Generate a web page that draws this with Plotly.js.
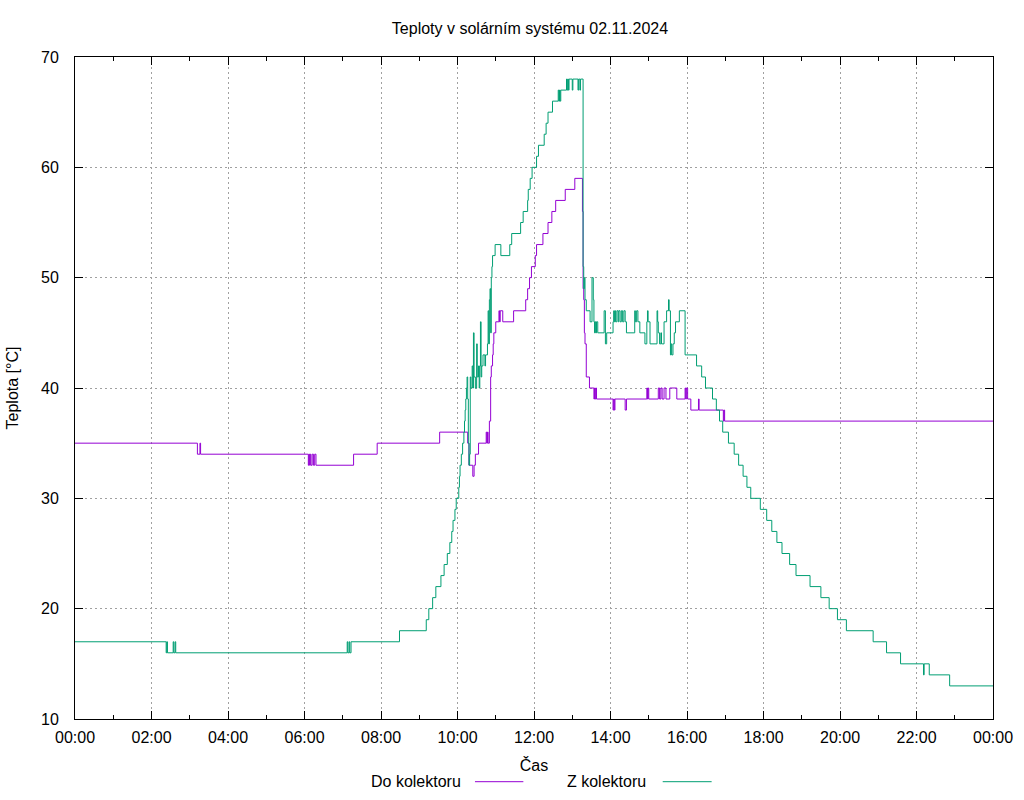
<!DOCTYPE html>
<html>
<head>
<meta charset="utf-8">
<script src="https://cdn.plot.ly/plotly-3.0.1.min.js"></script>
<style>
  html, body { margin: 0; padding: 0; background: #fff; }
  #chart { width: 1024px; height: 800px; }
</style>
</head>
<body>
<div id="chart"></div>
<script>
// ---- Data ----
var chartTitle = 'Teploty v solárním systému 02.11.2024';
var xTitle = 'Čas';
var yTitle = 'Teplota [°C]';
var seriesNames = ['Do kolektoru', 'Z kolektoru'];
var seriesColors = ['#9400d3', '#009e73'];
var dayDate = '2024-11-02';
var nextDate = '2024-11-03';

// "Do kolektoru" (inlet to collector)
var doTime = ['00:00','03:12','03:16','03:17','06:06','06:07','06:08','06:09','06:10','06:12','06:14','06:16','06:18',
  '07:17','07:54','09:32','10:16','10:18','10:24','10:26','10:28','10:33','10:45','10:46','10:47','10:48','10:50',
  '10:52','10:53','10:55','10:56','10:57','11:00','11:05','11:06','11:07','11:11','11:28','11:47','11:50','11:53',
  '11:56','12:02','12:04','12:14','12:22','12:28','12:34','12:49','13:04','13:16','13:17','13:18','13:19','13:20',
  '13:22','13:27','13:34','13:35','13:36','13:37','13:38','14:04','14:05','14:06','14:07','14:23','14:25','14:57',
  '14:58','14:59','15:00','15:15','15:17','15:19','15:21','15:24','15:27','15:33','15:44','15:57','15:58','15:59',
  '16:01','16:06','16:18','16:19','16:57','16:58','16:59','24:00'];
var doVal = [35,34,35,34,33,34,33,34,33,34,33,34,33,
  34,35,36,35,33,32,33,34,35,36,35,36,35,37,
  41,42,43,44,45,46,47,46,47,46,47,48,49,50,
  51,52,53,54,55,56,57,58,59,56,49,48,45,44,
  41,40,39,40,39,40,39,38,39,38,39,38,39,40,
  39,40,39,40,39,40,39,40,39,40,39,40,39,40,
  39,38,39,38,37,38,37,37];

// "Z kolektoru" (outlet from collector)
var zTime = ['00:00','02:23','02:24','02:25','02:34','02:35','02:37','02:38','07:07','07:08','07:10','07:11','07:13',
  '08:29','09:11','09:15','09:21','09:26','09:34','09:39','09:44','09:48','09:51','09:53','09:56','09:58','10:02',
  '10:03','10:04','10:06','10:08','10:10','10:11','10:12','10:13','10:14','10:15','10:16','10:17','10:18','10:19',
  '10:20','10:21','10:23','10:24','10:25','10:26','10:28','10:30','10:31','10:33','10:34','10:35','10:36','10:37',
  '10:38','10:40','10:43','10:44','10:47','10:48','10:49','10:50','10:51','10:52','10:53','10:54','10:55','10:59',
  '11:08','11:22','11:25','11:39','11:43','11:50','11:51','11:54','11:57','12:04','12:07','12:16','12:19','12:22',
  '12:29','12:38','12:39','12:40','12:41','12:42','12:51','12:52','12:53','12:54','12:55','13:00','13:01','13:09',
  '13:10','13:12','13:13','13:17','13:18','13:19','13:20','13:22','13:28','13:31','13:33','13:34','13:35','13:36',
  '13:37','13:38','13:40','13:50','13:52','13:54','14:04','14:05','14:06','14:07','14:08','14:10','14:12','14:13',
  '14:15','14:17','14:19','14:21','14:23','14:25','14:38','14:39','14:41','14:43','14:46','14:54','14:57','14:58',
  '14:59','15:02','15:13','15:14','15:15','15:17','15:19','15:20','15:24','15:28','15:31','15:32','15:34','15:35',
  '15:36','15:38','15:40','15:42','15:48','15:57','16:15','16:23','16:29','16:40','16:46','16:51','16:56','17:05',
  '17:14','17:21','17:28','17:34','17:40','17:55','18:05','18:13','18:21','18:29','18:41','18:51','19:13','19:30',
  '19:43','19:56','20:10','20:52','21:13','21:35','22:11','22:12','22:20','22:52','24:00'];
var zVal = [17,16,17,16,17,16,17,16,17,16,17,16,17,
  18,19,20,21,22,23,24,25,26,27,28,29,30,31,
  32,33,34,35,36,37,38,39,40,41,39,35,33,34,
  41,40,42,40,45,41,40,44,41,42,40,42,46,41,
  42,43,42,43,44,47,44,48,49,45,50,51,52,53,
  52,53,54,55,56,57,58,59,60,61,62,63,64,65,
  66,67,66,67,66,67,68,67,68,67,68,67,68,67,
  68,67,68,51,49,50,48,47,46,50,48,46,45,46,
  45,46,45,47,44,45,46,47,46,47,46,47,46,47,
  46,47,46,47,46,45,47,46,47,46,45,44,46,47,
  46,44,47,46,45,44,45,44,46,47,48,47,43,44,
  43,44,45,46,47,43,42,41,40,39,38,37,36,35,
  34,33,32,31,30,29,28,27,26,25,24,23,22,21,
  20,19,18,17,16,15,14,15,14,13,13];

var yTickVals = [10, 20, 30, 40, 50, 60, 70];

// ---- Build ----
function toDate(t) {
  var p = t.split(':');
  if (+p[0] === 24) return nextDate + ' 00:00';
  return dayDate + ' ' + t;
}

var traces = [
  { x: doTime.map(toDate), y: doVal, name: seriesNames[0], type: 'scatter', mode: 'lines',
    line: { color: seriesColors[0], width: 1, shape: 'hv' }, showlegend: false },
  { x: zTime.map(toDate), y: zVal, name: seriesNames[1], type: 'scatter', mode: 'lines',
    line: { color: seriesColors[1], width: 1, shape: 'hv' }, showlegend: false }
];

var FONT = 'Liberation Sans, Arial, sans-serif';
var fs = 16;

// legend built gnuplot-style: text followed by line sample, below the axis
var legAnn = [
  { text: seriesNames[0], xref: 'paper', yref: 'paper', x: 0.4223, y: -0.0947, xanchor: 'right', yanchor: 'middle', showarrow: false, font: { family: FONT, size: fs, color: '#000' } },
  { text: seriesNames[1], xref: 'paper', yref: 'paper', x: 0.6245, y: -0.0947, xanchor: 'right', yanchor: 'middle', showarrow: false, font: { family: FONT, size: fs, color: '#000' } }
];
var legShapes = [
  { type: 'line', xref: 'paper', yref: 'paper', x0: 0.4357, x1: 0.4884, y0: -0.0947, y1: -0.0947, line: { color: seriesColors[0], width: 1 } },
  { type: 'line', xref: 'paper', yref: 'paper', x0: 0.6402, x1: 0.6935, y0: -0.0947, y1: -0.0947, line: { color: seriesColors[1], width: 1 } }
];

var layout = {
  width: 1024, height: 800,
  margin: { l: 75, r: 31, t: 57, b: 81, pad: 0 },
  paper_bgcolor: '#ffffff', plot_bgcolor: '#ffffff',
  font: { family: FONT, size: fs, color: '#000' },
  title: { text: chartTitle, font: { family: FONT, size: fs, color: '#000' },
           xref: 'container', x: 530 / 1024, xanchor: 'center', yref: 'container', y: 1 - 28 / 800, yanchor: 'middle' },
  showlegend: false,
  xaxis: {
    type: 'date',
    range: [dayDate + ' 00:00', nextDate + ' 00:00'],
    tick0: dayDate + ' 00:00', dtick: 7200000,
    tickformat: '%H:%M',
    ticks: 'inside', ticklen: 8, tickwidth: 1, tickcolor: '#000',
    minor: { dtick: 3600000, ticks: 'inside', ticklen: 4, tickwidth: 1, tickcolor: '#000', showgrid: false },
    showline: true, linecolor: '#000', linewidth: 1, mirror: 'allticks',
    showgrid: true, gridcolor: '#a0a0a0', gridwidth: 1, griddash: '2px,3px',
    zeroline: false,
    tickfont: { family: FONT, size: fs, color: '#000' },
    ticklabelstandoff: 4,
    title: { text: xTitle, font: { family: FONT, size: fs, color: '#000' }, standoff: 14 },
    automargin: false
  },
  yaxis: {
    range: [10, 70],
    tickvals: yTickVals,
    ticks: 'inside', ticklen: 8, tickwidth: 1, tickcolor: '#000',
    showline: true, linecolor: '#000', linewidth: 1, mirror: 'allticks',
    showgrid: true, gridcolor: '#a0a0a0', gridwidth: 1, griddash: '2px,3px',
    zeroline: false,
    tickfont: { family: FONT, size: fs, color: '#000' },
    ticklabelstandoff: 12,
    title: { text: yTitle, font: { family: FONT, size: fs, color: '#000' }, standoff: 18 },
    automargin: false
  },
  annotations: legAnn,
  shapes: legShapes
};

Plotly.newPlot('chart', traces, layout, { staticPlot: true, displayModeBar: false });
</script>
</body>
</html>
